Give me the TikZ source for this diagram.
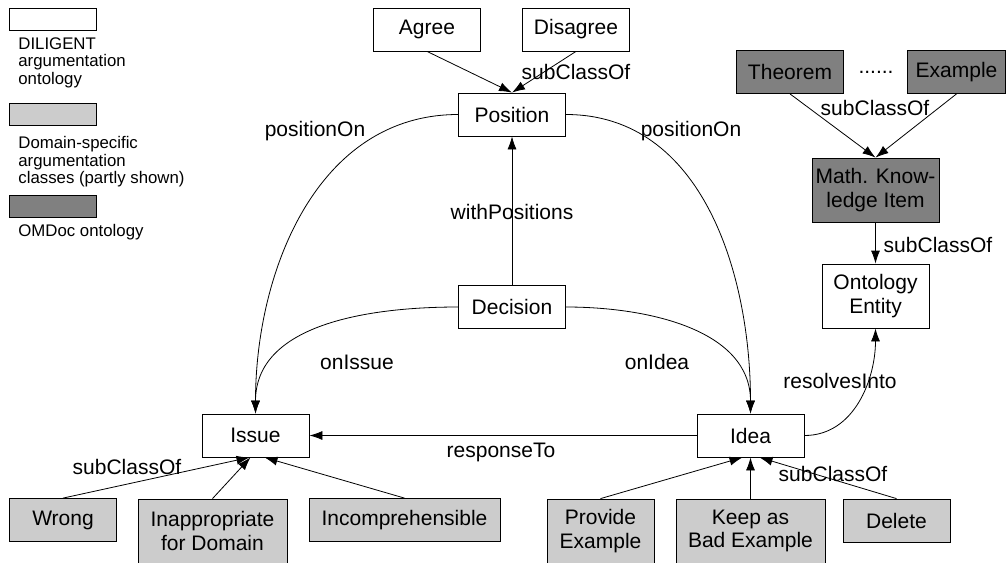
\documentclass[tikz,border=0pt]{standalone}
\usepackage{fontspec}
\setmainfont{Liberation Sans}
\usepackage{tikz}
\usetikzlibrary{positioning,arrows.meta}
\definecolor{domaingray}{HTML}{CCCCCC}
\definecolor{omdocgray}{HTML}{808080}
\newcommand{\mainsize}{\fontsize{21}{23.5}\selectfont}
\newcommand{\legsize}{\fontsize{16.8}{17.5}\selectfont}
\tikzstyle{tips}=[%
	 btip/.tip = {Latex[length=13pt, width=9pt]},
	 -btip]

\begin{document}
\begin{tikzpicture}[tips, x=1pt, y=-1pt, line width=0.8pt]
			\useasboundingbox (0,0) rectangle (1006,562);
			\tikzstyle{dilibox}=[draw, fill=white, minimum width=107pt, minimum height=43pt, inner sep=2pt, align=center, font=\mainsize]
			\tikzstyle{domainbox}=[dilibox, fill=domaingray]
			\tikzstyle{omdocbox}=[dilibox, fill=omdocgray]
			\tikzstyle{lbl}=[inner sep=1pt, font=\mainsize]
			\tikzstyle{legbox}=[draw, minimum width=87pt, minimum height=22pt, inner sep=0pt]
			\tikzstyle{legtext}=[anchor=north west, align=left, inner sep=0pt, font=\legsize]
			% legend
			\node[legbox, fill=white] (legdili) at (52.5,19) {};
			\node[legtext] (legdilitext) at (18,37) {DILIGENT\\argumentation\\ontology};
			\node[legbox, fill=domaingray] (legdomain) at (52.5,114) {};
			\node[legtext] (legdomaintext) at (18,136) {Domain-specific\\argumentation\\classes (partly shown)};
			\node[legbox, fill=omdocgray] (legomdoc) at (52.5,206) {};
			\node[legtext] (legomdoctext) at (18,224) {OMDoc ontology};
			% argumentation classes
			\node[dilibox] (agree) at (427,29.5) {Agree};
			\node[dilibox] (disagree) at (576,29.5) {Disagree};
			\node[dilibox] (position) at (512,114.5) {Position};
			\node[dilibox] (decision) at (512,307) {Decision};
			\node[dilibox] (issue) at (255.5,435.5) {Issue};
			\node[dilibox] (idea) at (750.5,435.5) {Idea};
			\node[dilibox, minimum height=64pt] (entity) at (875.5,296) {Ontology\\Entity};
			% OMDoc
			\node[omdocbox, minimum width=127pt, minimum height=64pt] (mki) at (875.5,190) {Math. Know-\\ledge Item};
			\node[omdocbox] (theorem) at (790,72) {Theorem};
			\node[omdocbox, minimum width=98pt] (example) at (956.5,72) {Example};
			\node[lbl] (dots) at (876,72) {......};
			% domain-specific
			\node[domainbox] (wrong) at (63,520) {Wrong};
			\node[domainbox, minimum width=149pt, minimum height=64pt] (inappropriate) at (212.5,531) {Inappropriate\\for Domain};
			\node[domainbox, minimum width=191pt] (incomprehensible) at (404.5,520) {Incomprehensible};
			\node[domainbox, minimum height=64pt] (provide) at (600.5,531) {Provide\\Example};
			\node[domainbox, minimum width=149pt, minimum height=64pt] (keep) at (750.5,531) {Keep as\\Bad Example};
			\node[domainbox] (delete) at (896.5,520.5) {Delete};
			% relations
			\draw (agree.south) -- (position.north);
			\draw (disagree.south) -- (position.north);
			\draw (decision) -- (position);
			\draw (position.west) to[out=180, in=90] (issue.north);
			\draw (position.east) to[out=0, in=90] (idea.north);
			\draw (decision.west) to[out=180, in=90] (issue.north);
			\draw (decision.east) to[out=0, in=90] (idea.north);
			\draw (idea) -- (issue);
			\draw (idea.east) to[out=0, in=-90] (entity.south);
			\draw (mki) -- (entity);
			\draw (theorem.south) -- (mki.north);
			\draw (example.south) -- (mki.north);
			\draw (wrong.north) -- ([xshift=-6pt]issue.south);
			\draw (inappropriate.north) -- ([xshift=-5pt]issue.south);
			\draw (incomprehensible.north) -- ([xshift=9pt]issue.south);
			\draw (provide.north) -- ([xshift=-8pt]idea.south);
			\draw (keep.north) -- (idea.south);
			\draw (delete.north) -- ([xshift=9pt]idea.south);
			% labels
			\node[lbl] (lsubpos) at (576,72) {subClassOf};
			\node[lbl] (lposleft) at (315,131) {positionOn};
			\node[lbl] (lposright) at (691,131) {positionOn};
			\node[lbl] (lwithpos) at (512,212) {withPositions};
			\node[lbl] (lonissue) at (357,362) {onIssue};
			\node[lbl] (lonidea) at (657,362) {onIdea};
			\node[lbl] (lresponse) at (501,452) {responseTo};
			\node[lbl] (lresolves) at (840,381) {resolvesInto};
			\node[lbl] (lsubmath) at (875,108) {subClassOf};
			\node[lbl] (lsubentity) at (938,245) {subClassOf};
			\node[lbl] (lsubissue) at (127,467) {subClassOf};
			\node[lbl] (lsubidea) at (833,474) {subClassOf};
		\end{tikzpicture}
\end{document}
